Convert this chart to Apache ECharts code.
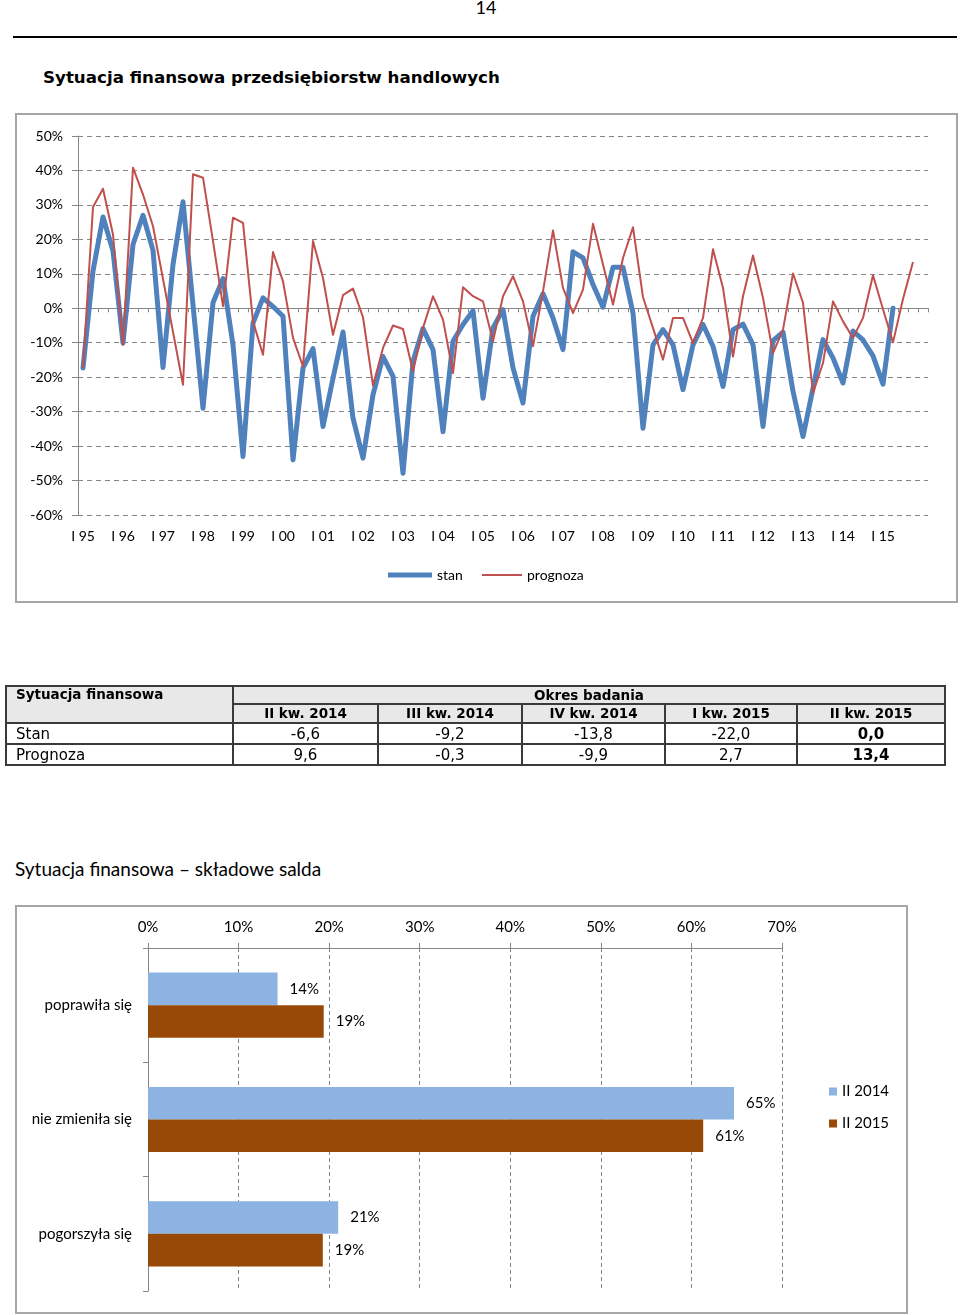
<!DOCTYPE html>
<html><head><meta charset="utf-8">
<script src="https://cdn.jsdelivr.net/npm/echarts@6/dist/echarts.min.js"></script>
<style>
html,body{margin:0;padding:0;background:#fff;width:960px;height:1315px;overflow:hidden;}
.abs{position:absolute;}
#pg{left:466px;width:40px;top:-4px;text-align:center;font:18px Lato,sans-serif;color:#000;}
#hr{left:13px;top:36px;width:944px;height:2px;background:#000;}
#t1{left:43px;top:67px;font:bold 16.7px "DejaVu Sans",sans-serif;color:#000;white-space:nowrap;}
#box1{left:15px;top:113px;width:943px;height:490px;border:2px solid #A6A6A6;box-sizing:border-box;}
#box2{left:15px;top:905px;width:893px;height:409px;border:2px solid #A6A6A6;box-sizing:border-box;}
#t2{left:15px;top:857px;font:19px Lato,sans-serif;color:#000;white-space:nowrap;}
#chart{left:0;top:0;width:960px;height:1315px;z-index:1;}
#tbl{left:5px;top:685px;width:939px;border-collapse:collapse;table-layout:fixed;z-index:2;}
#tbl td{border:2px solid #3a3a3a;padding:0;font:15px "DejaVu Sans",sans-serif;color:#000;text-align:center;line-height:18px;overflow:hidden;white-space:nowrap;}
#tbl td.h{background:#E8E8E8;font:bold 13.5px "DejaVu Sans",sans-serif;line-height:15px;}
#tbl td.l{text-align:left;padding-left:9px;}
#tbl td.b{font-weight:bold;}
</style></head>
<body>
<div id="pg" class="abs">14</div>
<div id="hr" class="abs"></div>
<div id="t1" class="abs">Sytuacja finansowa przedsiębiorstw handlowych</div>
<div id="box1" class="abs"></div>
<table id="tbl" class="abs"></table>
<div id="t2" class="abs">Sytuacja finansowa – składowe salda</div>
<div id="box2" class="abs"></div>
<div id="chart" class="abs"></div>
<script>
// ---- Line chart data (quarters I 1995 .. ) ----
const years = ['95','96','97','98','99','00','01','02','03','04','05','06','07','08','09','10','11','12','13','14','15'];
const quarters = ['I','II','III','IV'];
const stan = [
 -17.3, 10.8, 26.5, 16.6,  -10.1, 18.5, 27.0, 16.8,  -17.2, 12.7, 30.9, 1.0,
 -29.0, 1.6, 8.6, -10.6,  -43.0, -4.3, 3.0, 0.5,  -2.3, -44.0, -17.3, -11.7,
 -34.3, -20.3, -6.9, -31.9,  -43.5, -25.1, -14.0, -19.8,  -47.9, -15.4, -5.9, -12.0,
 -35.8, -9.6, -4.7, -0.7,  -26.1, -5.7, -0.4, -17.3,  -27.5, -2.3, 4.2, -2.8,
 -12.0, 16.4, 14.6, 6.9,  0.3, 11.9, 11.9, -1.4,  -34.8, -10.6, -6.2, -10.6,
 -23.6, -10.6, -4.7, -11.0,  -22.7, -6.2, -4.6, -10.6,  -34.3, -9.4, -6.9, -24.1,
 -37.2, -23.2, -9.1, -14.4,  -21.7, -6.6, -9.2, -13.8,  -22.0, 0.0
];
const prognoza = [
 -17.3, 29.4, 34.7, 21.4,  -10.6, 40.8, 33.0, 23.8,  8.5, -6.9, -22.2, 38.9,
 37.9, 19.5, 0.6, 26.3,  24.8, -3.8, -13.5, 16.3,  7.8, -8.6, -16.9, 19.5,
 8.8, -7.7, 3.8, 5.7,  -2.6, -22.4, -11.5, -5.0,  -6.0, -18.3, -5.7, 3.5,
 -3.3, -18.8, 6.1, 3.5,  2.0, -9.6, 3.5, 9.3,  2.0, -11.0, 4.9, 22.6,
 5.9, -1.4, 5.4, 24.5,  12.7, 1.1, 14.6, 23.5,  3.2, -5.7, -14.9, -2.8,
 -2.8, -10.1, -2.8, 17.1,  5.9, -14.0, 3.5, 15.3,  3.0, -13.0, -6.2, 10.1,
 1.6, -24.6, -15.9, 2.0,  -3.8, -8.6, -2.8, 9.6,  -0.3, -9.9, 2.7, 13.4
];
const yTicks = {min: -60, max: 50, step: 10};

// ---- Table data ----
const tblPeriods = ['II kw. 2014','III kw. 2014','IV kw. 2014','I kw. 2015','II kw. 2015'];
const tblStan = ['-6,6','-9,2','-13,8','-22,0','0,0'];
const tblPrognoza = ['9,6','-0,3','-9,9','2,7','13,4'];

// ---- Bar chart data ----
const barCats = ['poprawiła się','nie zmieniła się','pogorszyła się'];
const bar2014 = [14.3, 64.7, 21.0];
const bar2015 = [19.4, 61.3, 19.3];
const barTicks = {min: 0, max: 70, step: 10};

// build table
(function(){
  const colW = [227,145,144,143,132,148];
  let h = '<colgroup>' + colW.map(w => '<col style="width:'+w+'px">').join('') + '</colgroup>';
  h += '<tr style="height:18px"><td class="h l" rowspan="2" style="vertical-align:top">Sytuacja finansowa</td><td class="h" colspan="5">Okres badania</td></tr>';
  h += '<tr style="height:19px">' + tblPeriods.map(p => '<td class="h">'+p+'</td>').join('') + '</tr>';
  h += '<tr style="height:21px"><td class="l">Stan</td>' + tblStan.map((v,i) => '<td'+(i===4?' class="b"':'')+'>'+v+'</td>').join('') + '</tr>';
  h += '<tr style="height:21px"><td class="l">Prognoza</td>' + tblPrognoza.map((v,i) => '<td'+(i===4?' class="b"':'')+'>'+v+'</td>').join('') + '</tr>';
  document.getElementById('tbl').innerHTML = h;
})();

const categories = [];
years.forEach(y => quarters.forEach(q => categories.push(q + ' ' + y)));
categories.push('');
const stanData = stan.concat(Array(categories.length - stan.length).fill(null));
const progData = prognoza.concat(Array(categories.length - prognoza.length).fill(null));

const FONT = 'Lato';
const gray = '#868686';
const chart = echarts.init(document.getElementById('chart'), null, {renderer:'canvas'});
chart.setOption({
  animation: false,
  textStyle: {fontFamily: FONT},
  grid: [
    {left: 78, top: 136, width: 850, height: 379},
    {left: 148, top: 948, width: 634, height: 343}
  ],
  legend: [
    {data: [{name:'stan', itemStyle:{color:'#4F81BD'}}], left: 388, top: 568, padding: 0, icon: 'rect', itemWidth: 44, itemHeight: 5,
     textStyle: {fontFamily: FONT, fontSize: 14, color: '#000'}},
    {data: [{name:'prognoza', itemStyle:{color:'#C0504D'}}], left: 482, top: 568, padding: 0, icon: 'rect', itemWidth: 40, itemHeight: 2,
     textStyle: {fontFamily: FONT, fontSize: 14, color: '#000'}},
    {data: ['II 2014','II 2015'], orient: 'vertical', left: 829, top: 1084, padding: 0, icon: 'rect', itemWidth: 8, itemHeight: 8, itemGap: 17,
     textStyle: {fontFamily: FONT, fontSize: 15, color: '#000'}}
  ],
  xAxis: [
    {gridIndex: 0, type: 'category', data: categories, boundaryGap: true, position: 'bottom',
     axisLine: {show: false, onZero: false}, axisTick: {show: false},
     axisLabel: {interval: 3, fontFamily: FONT, fontSize: 14, color: '#000', margin: 14}},
    {gridIndex: 0, type: 'category', data: categories, boundaryGap: true, position: 'top',
     axisLine: {show: true, onZero: true, lineStyle: {color: gray, width: 1}},
     axisTick: {show: true, inside: true, length: 4, interval: 0, lineStyle: {color: gray}},
     axisLabel: {show: false}, splitLine: {show: false}},
    {gridIndex: 1, type: 'value', position: 'top', min: barTicks.min, max: barTicks.max, interval: barTicks.step,
     axisLine: {show: true, lineStyle: {color: gray}}, axisTick: {show: true, length: 5, lineStyle: {color: gray}},
     axisLabel: {formatter: '{value}%', fontFamily: FONT, fontSize: 15, color: '#000', margin: 13},
     splitLine: {show: true, lineStyle: {color: gray, type: [4,3]}}}
  ],
  yAxis: [
    {gridIndex: 0, type: 'value', min: yTicks.min, max: yTicks.max, interval: yTicks.step,
     axisLine: {show: true, lineStyle: {color: gray}}, axisTick: {show: true, length: 6, lineStyle: {color: gray}},
     axisLabel: {formatter: '{value}%', fontFamily: FONT, fontSize: 14, color: '#000', margin: 15},
     splitLine: {show: true, lineStyle: {color: gray, type: [5,4]}}},
    {gridIndex: 1, type: 'category', data: barCats, inverse: true,
     axisLine: {show: true, lineStyle: {color: gray}}, axisTick: {show: true, length: 5, lineStyle: {color: gray}},
     axisLabel: {fontFamily: FONT, fontSize: 15, color: '#000', margin: 16}}
  ],
  series: [
    {name: 'stan', type: 'line', xAxisIndex: 0, yAxisIndex: 0, data: stanData, showSymbol: false, connectNulls: false,
     lineStyle: {color: '#4F81BD', width: 5, join: 'round', cap: 'round'}, itemStyle: {color: '#4F81BD'}, z: 3},
    {name: 'prognoza', type: 'line', xAxisIndex: 0, yAxisIndex: 0, data: progData, showSymbol: false,
     lineStyle: {color: '#C0504D', width: 2, join: 'round'}, itemStyle: {color: '#C0504D'}, z: 4},
    {name: 'II 2014', type: 'bar', xAxisIndex: 2, yAxisIndex: 1, data: bar2014, barGap: '0%', barCategoryGap: '43%',
     itemStyle: {color: '#8DB3E2'},
     label: {show: true, position: 'right', distance: 12, fontFamily: FONT, fontSize: 15, color: '#000',
             formatter: p => Math.round(p.value) + '%'}},
    {name: 'II 2015', type: 'bar', xAxisIndex: 2, yAxisIndex: 1, data: bar2015, barGap: '0%', barCategoryGap: '43%',
     itemStyle: {color: '#984807'},
     label: {show: true, position: 'right', distance: 12, fontFamily: FONT, fontSize: 15, color: '#000',
             formatter: p => Math.round(p.value) + '%'}}
  ]
});
</script>
</body></html>
